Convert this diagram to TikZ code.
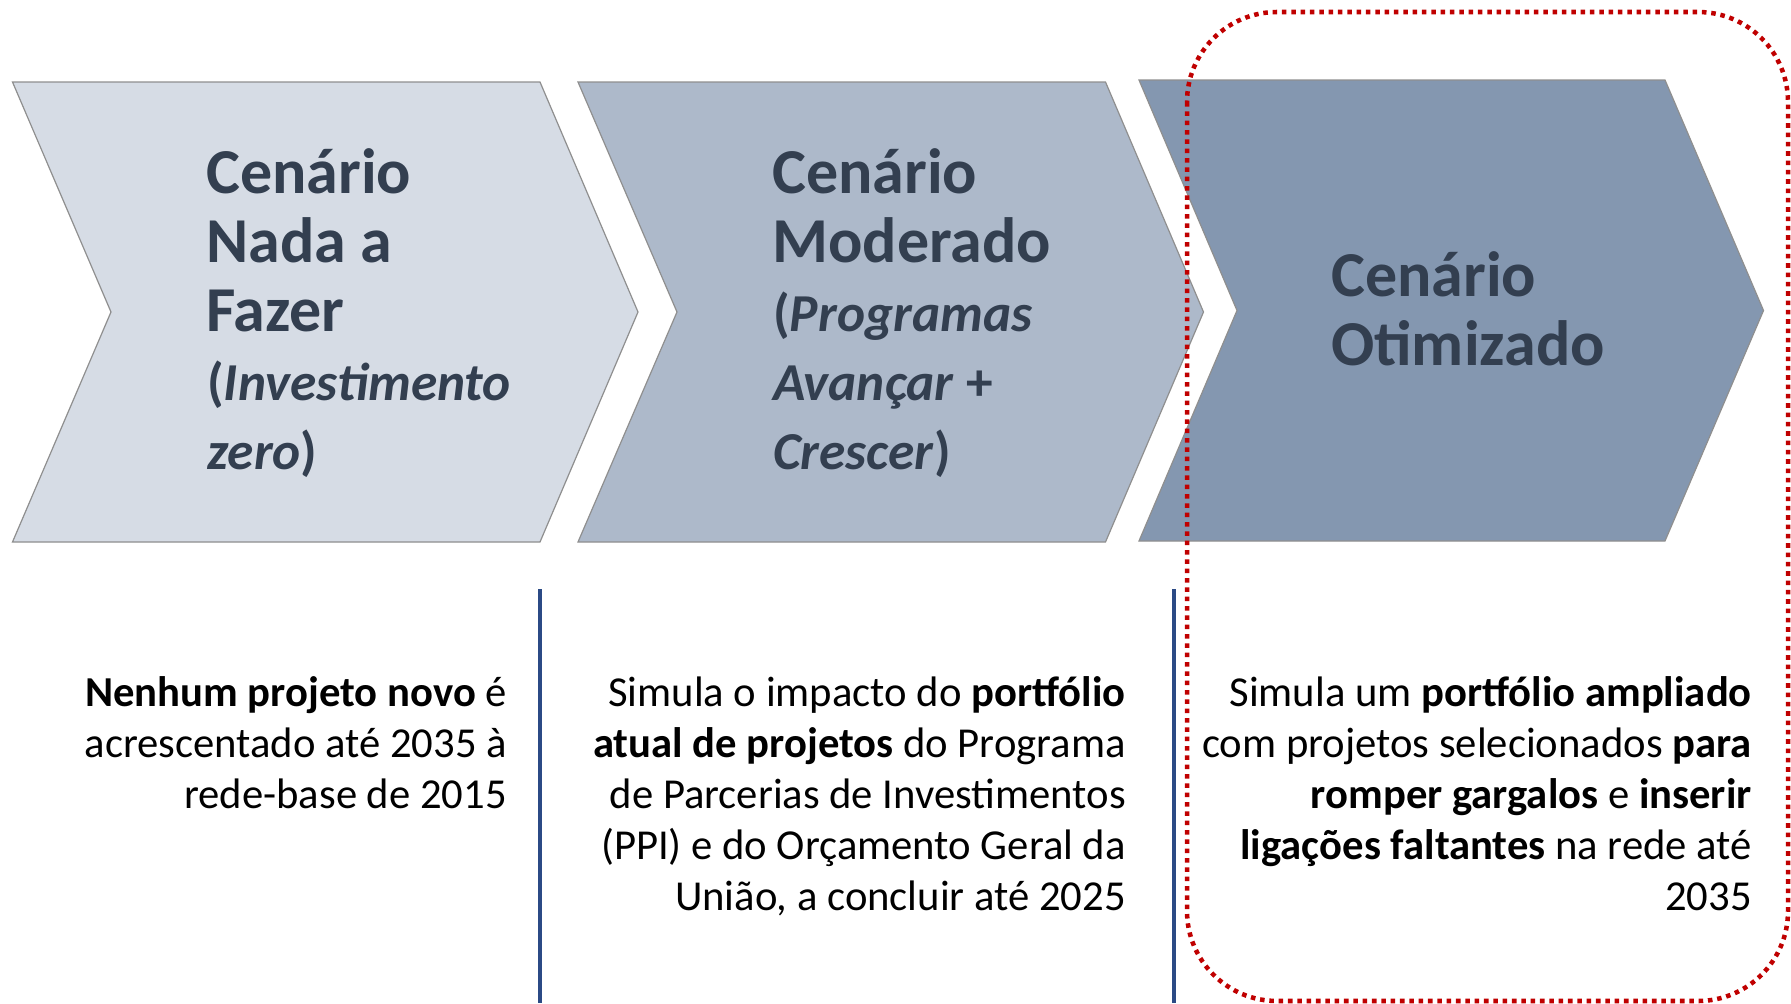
\documentclass[tikz,border=0pt]{standalone}
\usepackage{fontspec}
\setmainfont{Carlito}
\definecolor{chevA}{HTML}{D6DCE5}
\definecolor{chevB}{HTML}{ADB9CA}
\definecolor{chevC}{HTML}{8497B0}
\definecolor{chevline}{HTML}{8F8F8F}
\definecolor{titlecol}{HTML}{333F50}
\definecolor{sepblue}{HTML}{2B4A85}
\definecolor{hlred}{HTML}{C00000}
\tikzset{
  chevron/.style={draw=chevline, line width=0.9pt},
  titleline/.style={anchor=base west, inner sep=0pt, text=titlecol, font=\fontsize{48pt}{50pt}\selectfont\bfseries},
  subline/.style={anchor=base west, inner sep=0pt, text=titlecol, font=\fontsize{40pt}{42pt}\selectfont\bfseries},
  bodyline/.style={anchor=base east, inner sep=0pt, text=black, font=\fontsize{32pt}{38pt}\selectfont},
  sepline/.style={draw=sepblue, line width=3pt},
  hlbox/.style={draw=hlred, line width=3.4pt, dash pattern=on 3.4pt off 3.6pt, rounded corners=67.5pt}
}
\begin{document}
\begin{tikzpicture}[x=0.75pt,y=-0.75pt]
\useasboundingbox (0,0) rectangle (1791,1003);
\fill[white] (0,0) rectangle (1791,1003);

% chevrons
\path[chevron, fill=chevA] (12.5,82) -- (540,82) -- (638,312) -- (540,542) -- (12.5,542) -- (111,312) -- cycle;
\path[chevron, fill=chevB] (578,82) -- (1105.5,82) -- (1203.5,312) -- (1105.5,542) -- (578,542) -- (677,312) -- cycle;
\path[chevron, fill=chevC] (1139,80) -- (1665,80) -- (1763.5,310.5) -- (1665,541) -- (1139,541) -- (1237,310.5) -- cycle;

% titles
\node[titleline] (a1) at (206,193) {Cenário};
\node[titleline] (a2) at (206,262) {Nada a};
\node[titleline] (a3) at (206,331) {Fazer};
\node[subline] (a4) at (207,400) {(\textit{Investimento}};
\node[subline] (a5) at (207,469) {\textit{zero})};

\node[titleline] (b1) at (772,193) {Cenário};
\node[titleline] (b2) at (772,262) {Moderado};
\node[subline] (b3) at (773,331) {(\textit{Programas}};
\node[subline] (b4) at (773,400) {\textit{Avançar} +};
\node[subline] (b5) at (773,469) {\textit{Crescer})};

\node[titleline] (c1) at (1331,296) {Cenário};
\node[titleline] (c2) at (1331,365) {Otimizado};

% separators
\coordinate (s1t) at (540,589);
\coordinate (s1b) at (540,1003);
\coordinate (s2t) at (1174,589);
\coordinate (s2b) at (1174,1003);
\draw[sepline] (s1t) -- (s1b);
\draw[sepline] (s2t) -- (s2b);

% descriptions
\node[bodyline] (d1) at (507,706) {\textbf{Nenhum projeto novo} é};
\node[bodyline] (d2) at (507,757) {acrescentado até 2035 à};
\node[bodyline] (d3) at (507,808) {rede-base de 2015};

\node[bodyline] (e1) at (1126,706) {Simula o impacto do \textbf{portfólio}};
\node[bodyline] (e2) at (1126,757) {\textbf{atual de projetos} do Programa};
\node[bodyline] (e3) at (1126,808) {de Parcerias de Investimentos};
\node[bodyline] (e4) at (1126,859) {(PPI) e do Orçamento Geral da};
\node[bodyline] (e5) at (1126,910) {União, a concluir até 2025};

\node[bodyline] (f1) at (1752,706) {Simula um \textbf{portfólio ampliado}};
\node[bodyline] (f2) at (1752,757) {com projetos selecionados \textbf{para}};
\node[bodyline] (f3) at (1752,808) {\textbf{romper gargalos} e \textbf{inserir}};
\node[bodyline] (f4) at (1752,859) {\textbf{ligações faltantes} na rede até};
\node[bodyline] (f5) at (1752,910) {2035};

% highlight box
\draw[hlbox] (1187,12) rectangle (1788,1001);
\end{tikzpicture}
\end{document}
